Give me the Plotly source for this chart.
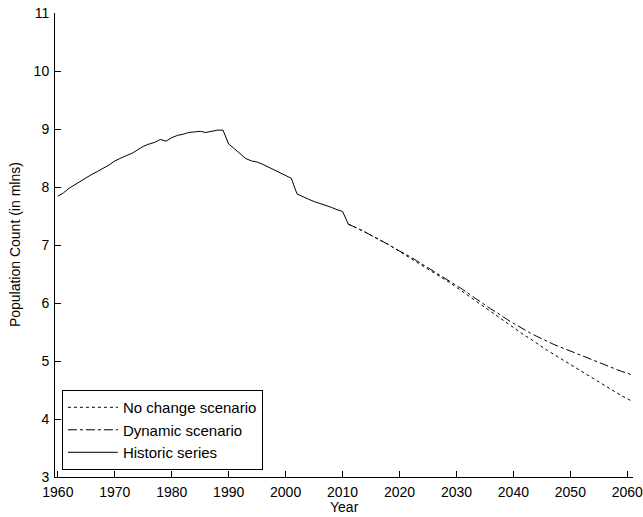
import plotly.graph_objects as go

# Historic population series (millions)
hist_years = list(range(1960, 2012))
hist_pop = [7.84, 7.90, 7.98, 8.04, 8.10, 8.17, 8.22, 8.27, 8.32, 8.38,
            8.45, 8.50, 8.54, 8.58, 8.64, 8.70, 8.74, 8.77, 8.82, 8.79,
            8.85, 8.89, 8.91, 8.94, 8.95, 8.96, 8.94, 8.96, 8.98, 8.98,
            8.74, 8.66, 8.57, 8.49, 8.45, 8.43, 8.39, 8.34, 8.29, 8.24,
            8.19, 8.15, 7.88, 7.83, 7.79, 7.75, 7.72, 7.68, 7.65, 7.61,
            7.58, 7.36]

# Projection years (starting from the last historic point)
proj_years = list(range(2011, 2062))

# Dynamic scenario projection
dynamic_pop = [7.36, 7.32, 7.27, 7.22, 7.17, 7.11, 7.06, 7.01, 6.95, 6.90,
               6.84, 6.79, 6.73, 6.67, 6.61, 6.55, 6.49, 6.43, 6.37, 6.30,
               6.24, 6.17, 6.10, 6.03, 5.96, 5.90, 5.84, 5.77, 5.71, 5.65,
               5.59, 5.53, 5.48, 5.43, 5.38, 5.34, 5.29, 5.25, 5.21, 5.17,
               5.13, 5.09, 5.05, 5.01, 4.97, 4.93, 4.90, 4.86, 4.82, 4.79,
               4.75]

# No change scenario projection
nochange_pop = [7.36, 7.32, 7.27, 7.22, 7.17, 7.11, 7.06, 7.01, 6.95, 6.89,
                6.83, 6.77, 6.71, 6.65, 6.59, 6.53, 6.47, 6.40, 6.34, 6.27,
                6.20, 6.13, 6.06, 5.99, 5.92, 5.85, 5.78, 5.72, 5.65, 5.58,
                5.51, 5.44, 5.38, 5.31, 5.25, 5.18, 5.12, 5.06, 4.99, 4.93,
                4.87, 4.81, 4.75, 4.69, 4.63, 4.57, 4.51, 4.45, 4.40, 4.35,
                4.30]

x_ticks = list(range(1960, 2061, 10))
y_ticks = list(range(3, 12))

FONT = "Arial"
TICK_FS = 14
LEG_FS = 15
fig = go.Figure()
fig.add_trace(go.Scatter(x=proj_years, y=nochange_pop, mode="lines",
                         name="No change scenario",
                         line=dict(color="black", width=1, dash="dot")))
fig.add_trace(go.Scatter(x=proj_years, y=dynamic_pop, mode="lines",
                         name="Dynamic scenario",
                         line=dict(color="black", width=1, dash="dashdot")))
fig.add_trace(go.Scatter(x=hist_years, y=hist_pop, mode="lines",
                         name="Historic series",
                         line=dict(color="black", width=1)))

axis_common = dict(showgrid=False, zeroline=False, showline=True,
                   linecolor="black", linewidth=1, ticks="inside",
                   ticklen=6, tickcolor="black", tickwidth=1,
                   tickfont=dict(family=FONT, size=TICK_FS, color="black"),
                   ticklabeloverflow="allow", automargin=False,
                   mirror=False)

fig.update_layout(
    width=643, height=517,
    margin=dict(l=55, r=10, t=13, b=40),
    paper_bgcolor="white", plot_bgcolor="white",
    font=dict(family=FONT, size=TICK_FS, color="black"),
    xaxis=dict(range=[1959.5, 2061], tickvals=x_ticks,
               ticklabelstandoff=2,
               **axis_common),
    yaxis=dict(range=[3, 11], tickvals=y_ticks,
               ticklabelstandoff=2,
               **axis_common),
    legend=dict(x=0.012, y=0.015, xanchor="left", yanchor="bottom",
                bgcolor="white", bordercolor="black", borderwidth=1,
                itemwidth=50,
                font=dict(family=FONT, size=LEG_FS), tracegroupgap=0),
    showlegend=True,
    annotations=[
        dict(text="Year", xref="paper", yref="paper",
             x=0.5, y=-0.065, xanchor="center", yanchor="middle",
             showarrow=False, font=dict(family=FONT, size=TICK_FS)),
        dict(text="Population Count (in mlns)", xref="paper", yref="paper",
             x=-0.069, y=0.5, xanchor="center", yanchor="middle",
             textangle=-90, showarrow=False,
             font=dict(family=FONT, size=TICK_FS)),
    ],
)

fig.write_html("out.html")
